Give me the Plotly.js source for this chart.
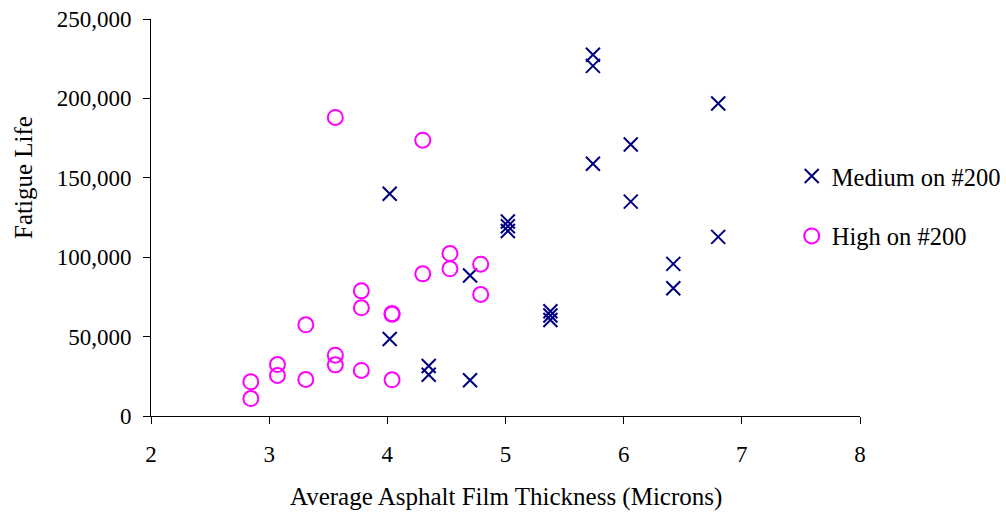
<!DOCTYPE html>
<html>
<head>
<meta charset="utf-8">
<script src="https://cdn.plot.ly/plotly-3.0.1.min.js"></script>
<style>html,body{margin:0;padding:0;background:#fff;}#chart{width:1006px;height:514px;}</style>
</head>
<body>
<div id="chart"></div>
<script>
const mediumX = [4.02, 4.02, 4.35, 4.35, 4.70, 4.70, 5.02, 5.02, 5.02, 5.38, 5.38, 5.38, 5.74, 5.74, 5.74, 6.06, 6.06, 6.42, 6.42, 6.80, 6.80];
const mediumY = [140000, 48500, 31500, 26000, 88500, 22500, 122500, 119500, 116500, 66000, 63300, 60500, 227500, 220500, 158800, 171000, 135000, 95800, 80500, 196800, 112800];
const highX = [2.845, 2.845, 3.07, 3.07, 3.31, 3.31, 3.56, 3.56, 3.56, 3.78, 3.78, 3.78, 4.04, 4.04, 4.04, 4.30, 4.30, 4.53, 4.53, 4.79, 4.79];
const highY = [21500, 11000, 32400, 25500, 57400, 23000, 188000, 38300, 32200, 78800, 68100, 28700, 64500, 64000, 22800, 173700, 89500, 102300, 92700, 95600, 76500];
const seriesNames = ["Medium on #200", "High on #200"];
const xTitle = "Average Asphalt Film Thickness (Microns)";
const yTitle = "Fatigue Life";

const FONT = "Liberation Serif, Times New Roman, serif";

const traces = [
  {
    x: mediumX, y: mediumY, name: seriesNames[0], type: "scatter", mode: "markers",
    legendgroup: "a",
    marker: {symbol: "x-thin-open", size: 14, color: "#000080", line: {color: "#000080", width: 2}}
  },
  {
    x: highX, y: highY, name: seriesNames[1], type: "scatter", mode: "markers",
    legendgroup: "b",
    marker: {symbol: "circle-open", size: 15, color: "#FF00FF", line: {color: "#FF00FF", width: 2}}
  }
];

const layout = {
  width: 1006, height: 514,
  margin: {l: 151, r: 145.5, t: 19.3, b: 97.5, pad: 0, autoexpand: false},
  paper_bgcolor: "#fff", plot_bgcolor: "#fff",
  font: {family: FONT, size: 23, color: "#000"},
  showlegend: true,
  legend: {
    xref: "container", yref: "container",
    x: 0.787, xanchor: "left", y: 0.599, yanchor: "middle",
    font: {family: FONT, size: 24.5, color: "#000"},
    tracegroupgap: 25, bgcolor: "rgba(0,0,0,0)"
  },
  xaxis: {
    range: [2, 8], dtick: 1, tick0: 2,
    showgrid: false, zeroline: false,
    showline: true, linecolor: "#000", linewidth: 1,
    ticks: "outside", ticklen: 7, tickcolor: "#000", tickwidth: 1,
    ticklabelstandoff: 10,
    tickfont: {family: FONT, size: 23, color: "#000"},
    fixedrange: true
  },
  yaxis: {
    range: [0, 250000], dtick: 50000, tick0: 0,
    tickformat: ",d",
    showgrid: false, zeroline: false,
    showline: true, linecolor: "#000", linewidth: 1,
    ticks: "outside", ticklen: 7, tickcolor: "#000", tickwidth: 1,
    ticklabelstandoff: 7,
    tickfont: {family: FONT, size: 23, color: "#000"},
    fixedrange: true
  },
  annotations: [
    {text: xTitle, xref: "paper", yref: "paper", x: 0.5, y: -0.205, xanchor: "center", yanchor: "middle",
     showarrow: false, font: {family: FONT, size: 25, color: "#000"}},
    {text: yTitle, xref: "paper", yref: "paper", x: -0.18, y: 0.6005, xanchor: "center", yanchor: "middle",
     textangle: -90, showarrow: false, font: {family: FONT, size: 25, color: "#000"}}
  ]
};

Plotly.newPlot("chart", traces, layout, {displayModeBar: false, staticPlot: true});
</script>
</body>
</html>
